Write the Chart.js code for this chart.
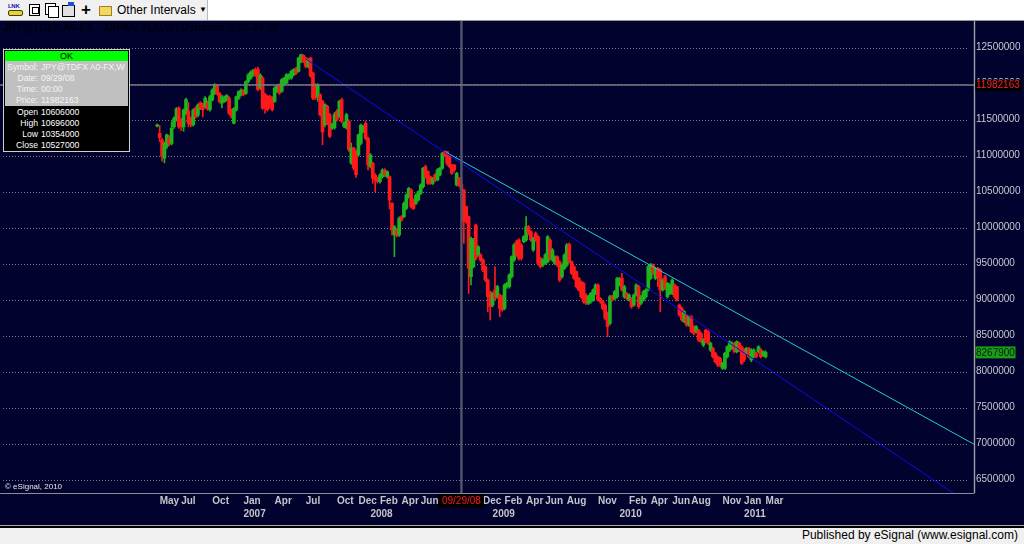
<!DOCTYPE html>
<html>
<head>
<meta charset="utf-8">
<script src="https://cdn.jsdelivr.net/npm/chart.js@4.4.1/dist/chart.umd.min.js"></script>
<style>
html,body{margin:0;padding:0;width:1024px;height:544px;overflow:hidden;background:#02022e;font-family:"Liberation Sans",Arial,sans-serif;}
#toolbar{position:absolute;left:0;top:0;width:1024px;height:20px;background:#ffffff;border-bottom:1px solid #9a9a9a;}
#tbl{position:absolute;left:0;top:0;width:207px;height:20px;background:#f0f0f0;border-right:1px solid #b8b8b8;}
.ic{position:absolute;}
#chartwrap{position:absolute;left:0;top:21px;width:1024px;height:505px;}
#title{position:absolute;left:3px;top:21px;font:bold 10.5px "Liberation Sans",Arial,sans-serif;color:#00000c;white-space:nowrap;line-height:13px;}
#copy{position:absolute;left:5px;top:482px;font:8px "Liberation Sans",Arial,sans-serif;color:#e8e8e8;white-space:nowrap;line-height:10px;}
#info{position:absolute;left:3px;top:49px;width:125px;height:101px;border:1px solid #d0d0d0;background:#000;font-family:"Liberation Sans",Arial,sans-serif;}
#info .ok{position:absolute;left:1px;top:1px;width:123px;height:10px;background:#00ff00;color:#000;font-size:9px;line-height:10px;text-align:center;}
#info .gray{position:absolute;left:1px;top:11px;width:123px;height:45px;background:#c0c0c0;}
#info .row{position:absolute;left:0;width:125px;height:11px;font-size:8.6px;line-height:11px;white-space:nowrap;}
#info .lab{position:absolute;right:91px;text-align:right;}
#info .val{position:absolute;left:37px;}
#info .g{color:#f4f4f4;}
#info .b{color:#ffffff;}
#sep1{position:absolute;left:0;top:525px;width:1024px;height:1px;background:#a8a8a8;}
#sep2{position:absolute;left:0;top:526px;width:1024px;height:2px;background:#000;}
#bottom{position:absolute;left:0;top:528px;width:1024px;height:16px;background:#f0f0f0;}
#pub{position:absolute;right:6px;top:0;font:12px "Liberation Sans",Arial,sans-serif;color:#000;line-height:15px;white-space:nowrap;}
</style>
</head>
<body>
<div id="toolbar">
  <div id="tbl"></div>
  <div class="ic" style="left:8px;top:3px;width:14px;height:14px;">
    <div style="font:bold 6px 'Liberation Sans',Arial;color:#1010c0;line-height:6px;letter-spacing:-0.3px;">LNK</div>
    <div style="margin-top:1px;width:13px;height:4px;background:#e8d040;border:1px solid #404000;border-radius:2px;"></div>
  </div>
  <div class="ic" style="left:29px;top:4px;width:9px;height:10px;background:#fff;border:1px solid #000;"><div style="margin:2px;width:5px;height:5px;border:1px solid #000;"></div></div>
  <div class="ic" style="left:45px;top:3px;width:9px;height:10px;background:#fff;border:1px solid #000;"></div>
  <div class="ic" style="left:48px;top:6px;width:9px;height:10px;background:#fff;border:1px solid #000;"></div>
  <div class="ic" style="left:62px;top:5px;width:11px;height:10px;background:#e0e0e0;border:1px solid #000;"></div>
  <div class="ic" style="left:68px;top:2px;width:6px;height:4px;background:#2050d0;"></div>
  <div class="ic" style="left:81px;top:0px;font:bold 17px 'Liberation Sans',Arial;line-height:20px;color:#000;">+</div>
  <div class="ic" style="left:99px;top:6px;width:11px;height:8px;background:#f2d860;border:1px solid #a08020;"></div>
  <div class="ic" style="left:117px;top:3px;font:12px 'Liberation Sans',Arial;color:#000;line-height:14px;white-space:nowrap;">Other Intervals</div>
  <div class="ic" style="left:199px;top:3px;font:8px 'Liberation Sans',Arial;color:#000;line-height:14px;">&#9660;</div>
</div>

<div id="chartwrap"><canvas id="c" width="1024" height="505"></canvas></div>
<div id="title">JPY@TDFX A0-FX - JAPAN YEN,W] Dynamic,0:00-24:00</div>
<div id="copy">&copy; eSignal, 2010</div>

<div id="info">
  <div class="ok">OK</div>
  <div class="gray"></div>
  <div class="row g" style="top:12px;"><span class="lab">Symbol:</span><span class="val">JPY@TDFX A0-FX,W</span></div>
  <div class="row g" style="top:23px;"><span class="lab">Date:</span><span class="val">09/29/08</span></div>
  <div class="row g" style="top:34px;"><span class="lab">Time:</span><span class="val">00:00</span></div>
  <div class="row g" style="top:45px;"><span class="lab">Price:</span><span class="val">11982163</span></div>
  <div class="row b" style="top:57px;"><span class="lab">Open</span><span class="val">10606000</span></div>
  <div class="row b" style="top:68px;"><span class="lab">High</span><span class="val">10696000</span></div>
  <div class="row b" style="top:79px;"><span class="lab">Low</span><span class="val">10354000</span></div>
  <div class="row b" style="top:90px;"><span class="lab">Close</span><span class="val">10527000</span></div>
</div>

<div id="sep1"></div><div id="sep2"></div>
<div id="bottom"><div id="pub">Published by eSignal (www.esignal.com)</div></div>

<script>
// Weekly JPY candles (values in thousands), first bar = week 0 (late Apr 2006)
const UNIT = 1000;
const openK = [
11410,11310,11220,10965,11130,11250,11170,11400,11500,11660,
11490,11400,11590,11620,11520,11430,11660,11565,11735,11710,
11680,11730,11640,11775,11866,11970,11866,11730,11750,11775,
11800,11635,11450,11635,11800,11845,11900,11866,12030,12075,
12120,12200,12200,11940,12080,11850,11825,11825,11800,11755,
11894,11987,11894,11987,12010,12079,12079,12125,12209,12172,
12310,12394,12357,12241,12357,12148,11987,11824,11848,11755,
11431,11686,11570,11385,11385,11616,11547,11778,11408,11385,
11477,10899,11107,11060,11014,11172,11338,11450,11241,10848,
10894,10732,10686,10640,10709,10801,10709,10709,10339,9898,
9968,9898,10153,10153,10269,10431,10524,10385,10339,10385,
10478,10570,10848,10778,10709,10616,10732,10663,10732,10825,
11056,11056,10990,10871,10871,10593,10686,10606,10524,10292,
10153,9320,9459,10037,9621,9621,9551,9459,9273,9111,
8926,9135,9042,9065,9042,8880,9181,9181,9320,9551,
9806,9829,9760,9806,9829,10014,9945,9690,9922,9875,
9574,9482,9505,9528,9829,9551,9505,9597,9528,9320,
9436,9482,9769,9528,9459,9390,9297,9250,9227,9065,
8950,8973,8996,9089,9204,9019,8973,8926,8811,8672,
9042,9019,9042,9204,9297,9042,9089,8996,9019,8926,
9065,9181,8950,8996,9042,9135,9297,9482,9297,9436,
9413,9135,9320,9042,9088,9088,9204,9181,8926,8880,
8695,8787,8649,8764,8625,8556,8579,8533,8370,8579,
8556,8301,8324,8255,8208,8185,8047,8046,8208,8301,
8324,8394,8278,8394,8347,8301,8255,8324,8162,8208,
8255,8278,8301,8232,8208];
const highK = [
11440,11420,11240,11190,11300,11280,11470,11540,11670,11680,
11520,11650,11800,11740,11540,11650,11680,11720,11750,11730,
11820,11760,11840,11930,12000,11990,11880,11840,11830,11850,
11820,11650,11670,11830,11900,11930,11920,12040,12140,12180,
12200,12220,12230,12140,12100,11870,11840,11840,11820,11960,
11980,12000,12070,12090,12140,12140,12190,12210,12230,12370,
12412,12405,12370,12350,12370,12160,12000,12000,11860,11770,
11720,11700,11590,11450,11600,11640,11770,11800,11470,11590,
11500,11176,11120,11080,11300,11440,11420,11480,11260,11030,
10910,10750,10700,10750,10820,10820,10790,10720,10350,10030,
9990,10150,10170,10360,10470,10560,10540,10400,10470,10510,
10610,10840,10870,10790,10720,10700,10750,10820,10840,11050,
11070,11060,11000,10880,10880,10770,10700,10696,10530,10300,
10160,9870,9850,10050,9750,9640,9570,9470,9290,9120,
9100,9459,9200,9080,9060,9220,9240,9360,9610,9780,
9830,9850,9780,9890,10153,10030,9960,9870,9940,9890,
9590,9570,9640,9890,9850,9710,9610,9610,9540,9500,
9640,9780,9790,9540,9470,9400,9310,9260,9240,9080,
9060,9100,9150,9220,9220,9030,8990,8940,8830,9060,
9065,9130,9310,9310,9366,9200,9100,9080,9030,9080,
9220,9200,9060,9130,9150,9480,9505,9495,9450,9450,
9430,9290,9340,9240,9220,9290,9220,9190,8940,8900,
8850,8800,8780,8780,8640,8640,8590,8550,8460,8590,
8570,8410,8340,8270,8220,8200,8130,8270,8360,8430,
8410,8410,8430,8410,8360,8320,8340,8340,8320,8320,
8270,8360,8320,8290,8290];
const lowK = [
11400,11195,10925,10900,11100,11140,11150,11380,11480,11380,
11350,11340,11570,11400,11400,11410,11520,11540,11640,11540,
11660,11630,11620,11760,11850,11840,11730,11665,11740,11760,
11570,11520,11440,11620,11780,11830,11830,11850,12010,12060,
12100,12100,11900,11920,11640,11590,11620,11660,11620,11740,
11880,11850,11880,11970,12000,12060,12060,12110,12130,12160,
12290,12290,12220,12220,12090,11780,11780,11755,11550,11153,
11400,11430,11250,11360,11370,11480,11530,11460,11390,11370,
11060,10880,10800,10700,10990,11150,11320,11220,10801,10830,
10616,10500,10620,10620,10690,10710,10690,10260,9898,9597,
9870,9880,10090,10140,10250,10410,10270,10250,10320,10370,
10460,10550,10690,10600,10600,10600,10640,10650,10720,10810,
10990,10870,10830,10740,10780,10580,10570,10354,9783,10060,
9088,9204,9440,9550,9600,9530,9390,9250,8834,8718,
8900,9000,9020,8764,8840,8860,9160,9160,9300,9530,
9600,9550,9550,9790,9810,9900,9810,9670,9810,9480,
9440,9460,9490,9510,9550,9530,9490,9460,9250,9300,
9420,9460,9510,9350,9280,9160,9120,9020,8950,8930,
8930,8950,8980,9070,8980,8950,8860,8720,8487,8650,
8980,9000,9020,9190,9120,9020,9000,8980,8880,8910,
9050,8880,8930,8980,9020,9120,9280,9350,9280,9181,
8834,9120,9140,9020,9070,9070,9020,8980,8770,8700,
8680,8630,8630,8540,8510,8540,8420,8400,8350,8400,
8380,8280,8190,8120,8070,8070,8030,8030,8190,8280,
8310,8260,8260,8280,8100,8140,8240,8190,8140,8190,
8190,8260,8190,8210,8190];
const closeK = [
11430,11250,10990,11170,11290,11160,11380,11520,11650,11400,
11400,11635,11780,11450,11430,11635,11540,11705,11660,11640,
11800,11650,11820,11910,11980,11866,11750,11820,11810,11835,
11590,11545,11655,11820,11890,11910,11850,12030,12120,12160,
12180,12120,11920,12120,11660,11660,11640,11690,11640,11940,
11964,11871,12056,12079,12125,12125,12172,12195,12148,12357,
12403,12310,12241,12334,12110,11801,11801,11987,11570,11330,
11709,11454,11269,11431,11570,11500,11755,11477,11454,11570,
11083,11107,10829,10737,11292,11426,11408,11241,10871,11010,
10686,10663,10640,10732,10801,10732,10778,10385,9968,10014,
9898,10130,10107,10339,10454,10547,10292,10269,10454,10500,
10593,10825,10709,10616,10616,10686,10663,10801,10825,11033,
11010,10894,10848,10755,10801,10755,10593,10527,10084,10084,
9436,9852,9829,9574,9736,9551,9412,9273,9042,8903,
9088,9019,9181,8880,8857,9204,9227,9343,9597,9760,
9621,9574,9574,9875,10014,9922,9829,9852,9829,9505,
9459,9551,9621,9875,9574,9690,9597,9482,9273,9482,
9620,9760,9528,9366,9297,9181,9135,9042,8973,8950,
9042,9089,9135,9204,8996,8973,8880,8741,8626,9042,
8996,9112,9297,9297,9135,9181,9019,9065,8903,9065,
9204,8903,9042,9112,9135,9459,9482,9366,9436,9320,
9135,9274,9158,9227,9204,9273,9042,8996,8787,8718,
8834,8649,8764,8556,8533,8625,8440,8417,8440,8417,
8394,8394,8208,8139,8093,8093,8116,8255,8347,8417,
8394,8278,8417,8301,8116,8162,8324,8208,8301,8301,
8208,8347,8208,8278,8267.9];

// X axis labels: week index of first bar of month, label lines
const xTickWeeks  = [1,10,23,36,49,62,75,84,89,93,102,110,136,140,145,154,162,171,184,193,197,206,215,223,236,245,254];
const xTickLabels = [["May"],["Jul"],["Oct"],["Jan","2007"],["Apr"],["Jul"],["Oct"],["Dec"],["","2008"],["Feb"],["Apr"],["Jun"],
                     ["Dec"],["","2009"],["Feb"],["Apr"],["Jun"],["Aug"],["Nov"],["","2010"],["Feb"],["Apr"],["Jun"],["Aug"],["Nov"],["Jan","2011"],["Mar"]];
const yTickValues = [6500000,7000000,7500000,8000000,8500000,9000000,9500000,10000000,10500000,11000000,11500000,12000000,12500000];

// Trend lines (week index, price)
const trendBlue = [{x:62, y:12344000},{x:341, y:6120000}];
const trendCyan = [{x:120, y:11058000},{x:341, y:6992000}];

// Cursor
const cursorWeek = 127;
const cursorLabel = "09/29/08";
const cursorPrice = 11982163;

const GREEN = '#1eb41e', RED = '#ff1a1a';
const bodies = [], wicks = [], colors = [];
for (let i = 0; i < openK.length; i++) {
  bodies.push({x: i, y: [openK[i]*UNIT, closeK[i]*UNIT]});
  wicks.push({x: i, y: [lowK[i]*UNIT, highK[i]*UNIT]});
  colors.push(closeK[i] >= openK[i] ? GREEN : RED);
}
const lastPrice = closeK[closeK.length-1]*UNIT;

const overlay = {
  id: 'overlay',
  beforeDatasetsDraw(chart) {
    const {ctx, chartArea: a, scales: {y}} = chart;
    ctx.save();
    ctx.strokeStyle = '#7c7c84';
    ctx.lineWidth = 1;
    ctx.setLineDash([1, 2]);
    yTickValues.forEach(v => {
      const py = Math.round(y.getPixelForValue(v)) + 0.5;
      ctx.beginPath(); ctx.moveTo(a.left, py); ctx.lineTo(a.right - 7, py); ctx.stroke();
    });
    ctx.restore();
  },
  afterDatasetsDraw(chart) {
    const {ctx, chartArea: a, scales: {x, y}} = chart;
    ctx.save();
    const cx = x.getPixelForValue(cursorWeek);
    ctx.strokeStyle = '#55556a'; ctx.lineWidth = 2.4;
    ctx.beginPath(); ctx.moveTo(cx, a.top); ctx.lineTo(cx, a.bottom); ctx.stroke();
    const cy = y.getPixelForValue(cursorPrice);
    ctx.strokeStyle = '#7a7a84'; ctx.lineWidth = 1.6;
    ctx.beginPath(); ctx.moveTo(0, cy); ctx.lineTo(a.right, cy); ctx.stroke();
    ctx.restore();
  },
  afterDraw(chart) {
    const {ctx, chartArea: a, scales: {x, y}} = chart;
    ctx.save();
    ctx.strokeStyle = '#a0a0a8'; ctx.lineWidth = 1.4;
    ctx.beginPath(); ctx.moveTo(a.right + 0.5, 0); ctx.lineTo(a.right + 0.5, a.bottom); ctx.stroke();
    ctx.strokeStyle = '#8c8c94'; ctx.lineWidth = 1.2;
    ctx.beginPath(); ctx.moveTo(0, a.bottom + 0.5); ctx.lineTo(a.right + 0.5, a.bottom + 0.5); ctx.stroke();
    ctx.font = '10px "Liberation Sans", Arial, sans-serif';
    ctx.textBaseline = 'middle';
    const cy = y.getPixelForValue(cursorPrice);
    ctx.fillStyle = '#000';
    ctx.fillRect(a.right + 1.5, cy - 5.5, 46, 11);
    ctx.fillStyle = '#ff2020'; ctx.textAlign = 'left';
    ctx.fillText(String(cursorPrice), a.right + 2, cy + 0.5);
    const ly = y.getPixelForValue(lastPrice);
    ctx.fillStyle = '#1c9c1c';
    ctx.fillRect(a.right + 1.5, ly - 6, 40, 12);
    ctx.fillStyle = '#002400';
    ctx.fillText(String(lastPrice), a.right + 2, ly + 0.5);
    const cx = x.getPixelForValue(cursorWeek);
    ctx.fillStyle = '#000';
    ctx.fillRect(cx - 23.5, a.bottom + 1, 46, 13.5);
    ctx.fillStyle = '#ff1a1a'; ctx.textAlign = 'center';
    ctx.fillText(cursorLabel, cx, a.bottom + 8);
    ctx.restore();
  }
};

new Chart(document.getElementById('c'), {
  type: 'bar',
  data: {
    datasets: [
      {type: 'line', label: 'Trend A', data: trendBlue, borderColor: '#0c0cf0', borderWidth: 1, pointRadius: 0, order: 0},
      {type: 'line', label: 'Trend B', data: trendCyan, borderColor: '#22ccd6', borderWidth: 1, pointRadius: 0, order: 1},
      {label: 'Body', data: bodies, backgroundColor: colors, barThickness: 3, grouped: false, minBarLength: 1, borderWidth: 0, order: 2},
      {label: 'Wick', data: wicks, backgroundColor: colors, barThickness: 1, grouped: false, borderWidth: 0, order: 3}
    ]
  },
  options: {
    responsive: false,
    animation: false,
    devicePixelRatio: 1,
    layout: {padding: {left: 3, right: 0, top: 0, bottom: 0}},
    plugins: {legend: {display: false}, tooltip: {enabled: false}},
    scales: {
      x: {
        type: 'linear', min: -64.4, max: 341.0, offset: false,
        grid: {display: false, drawTicks: false}, border: {display: false},
        afterBuildTicks: s => { s.ticks = xTickWeeks.map(v => ({value: v})); },
        afterFit: s => { s.height = 33; s.paddingLeft = 0; s.paddingRight = 0; },
        ticks: {
          autoSkip: false, maxRotation: 0, minRotation: 0, align: 'start', padding: 2,
          color: '#c4c4cc', font: {family: '"Liberation Sans", Arial, sans-serif', size: 10, weight: 'bold', lineHeight: 1.25},
          callback: (v, i) => xTickLabels[i]
        }
      },
      y: {
        type: 'linear', position: 'right', min: 6315000, max: 12871000,
        grid: {display: false, drawTicks: false}, border: {display: false},
        afterBuildTicks: s => { s.ticks = yTickValues.map(v => ({value: v})); },
        afterFit: s => { s.width = 50; s.paddingTop = 0; s.paddingBottom = 0; },
        ticks: {
          padding: 2, color: '#c8c8d0', font: {family: '"Liberation Sans", Arial, sans-serif', size: 10},
          callback: v => String(v)
        }
      }
    }
  },
  plugins: [overlay]
});
</script>
</body>
</html>
